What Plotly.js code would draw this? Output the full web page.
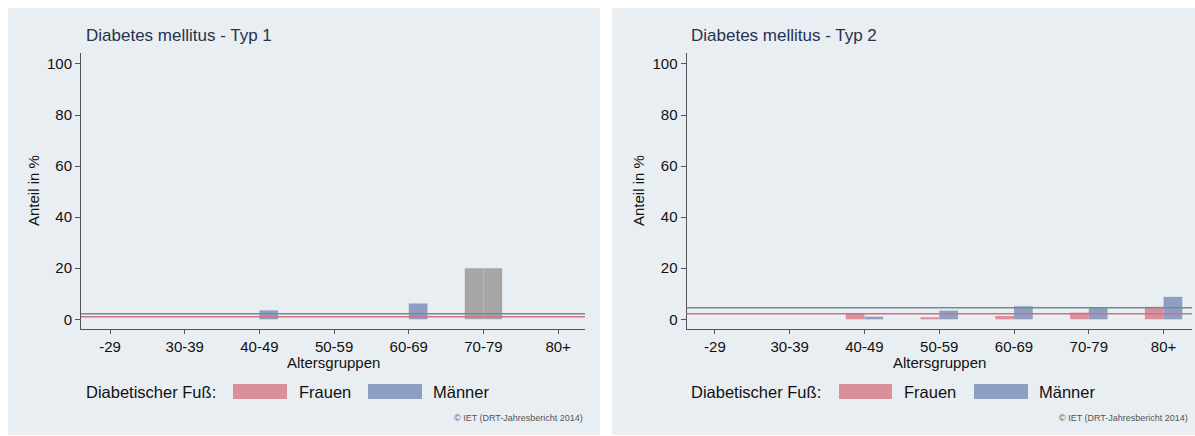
<!DOCTYPE html>
<html>
<head>
<meta charset="utf-8">
<script src="https://cdn.plot.ly/plotly-3.0.1.min.js"></script>
<style>html,body{margin:0;padding:0;background:#fff;}#chart{width:1195px;height:436px;}</style>
</head>
<body>
<div id="chart"></div>
<script>
// ---- data ----
const categories = ['-29', '30-39', '40-49', '50-59', '60-69', '70-79', '80+'];
const typ1Frauen  = [0, 0, 0,   0,   0,   20,  0];
const typ1Maenner = [0, 0, 3.5, 0,   6.2, 20,  0];
const typ2Frauen  = [0, 0, 2.2, 0.8, 1.3, 2.6, 4.9];
const typ2Maenner = [0, 0, 1.0, 3.4, 5.1, 4.8, 8.8];
// overall averages (reference lines): [Typ 1, Typ 2]
const mittelFrauen  = [1.0, 2.2];
const mittelMaenner = [2.2, 4.5];
const panelTitles = ['Diabetes mellitus - Typ 1', 'Diabetes mellitus - Typ 2'];
const yTicks = [0, 20, 40, 60, 80, 100];

// ---- styles ----
const W = 1195, H = 436;
const FONT = 'Liberation Sans, Arial, sans-serif';
const PINK = '#d9909b', BLUE = '#8f9fc3', GRAY = '#a6a6a6';
const PINK_LINE = '#c97586', GRAY_LINE = '#7c8796';
const PANEL_BG = '#e9eef2';
const px = v => v / W, py = v => 1 - v / H;

// 70-79 group in Typ 1 is drawn grey in the original
const grayIdx1 = categories.indexOf('70-79');
const colorsFor = (base, grayIdx) => categories.map((c, i) => i === grayIdx ? GRAY : base);

const traces = [
  {type: 'bar', x: categories, y: typ1Frauen, name: 'Frauen', xaxis: 'x', yaxis: 'y',
   marker: {color: colorsFor(PINK, grayIdx1), line: {width: 0}}, showlegend: false, hoverinfo: 'x+y'},
  {type: 'bar', x: categories, y: typ1Maenner, name: 'Männer', xaxis: 'x', yaxis: 'y',
   marker: {color: colorsFor(BLUE, grayIdx1), line: {width: 0}}, showlegend: false, hoverinfo: 'x+y'},
  {type: 'bar', x: categories, y: typ2Frauen, name: 'Frauen', xaxis: 'x2', yaxis: 'y2',
   marker: {color: PINK, line: {width: 0}}, showlegend: false, hoverinfo: 'x+y'},
  {type: 'bar', x: categories, y: typ2Maenner, name: 'Männer', xaxis: 'x2', yaxis: 'y2',
   marker: {color: BLUE, line: {width: 0}}, showlegend: false, hoverinfo: 'x+y'}
];

const panels = [
  {bg: [8, 600], dom: [81, 585], range: [-0.39, 6.36], ax: '', title: 84, legX: 84, sw1: [233, 287], t1: 297, sw2: [368, 422], t2: 431, copy: 585, ytitle: 33},
  {bg: [612, 1195], dom: [686.5, 1192], range: [-0.38, 6.38], ax: '2', title: 689, legX: 689, sw1: [839, 892], t1: 902, sw2: [974, 1028], t2: 1037, copy: 1190, ytitle: 638}
];

const shapes = [], annotations = [];
const layout = {
  width: W, height: H,
  margin: {l: 0, r: 0, t: 0, b: 0},
  paper_bgcolor: '#ffffff', plot_bgcolor: '#ffffff',
  barmode: 'group', bargap: 0.5, bargroupgap: 0,
  font: {family: FONT, color: '#111'},
  showlegend: false,
  shapes: shapes, annotations: annotations
};

const yDom = [py(329), py(53)];
panels.forEach((p, k) => {
  const xa = 'xaxis' + p.ax, ya = 'yaxis' + p.ax;
  const xr = 'x' + p.ax, yr = 'y' + p.ax;
  layout[xa] = {
    domain: [px(p.dom[0]), px(p.dom[1])], anchor: yr, type: 'category',
    range: p.range, showgrid: false, zeroline: false,
    showline: true, linecolor: '#555', linewidth: 1,
    ticks: 'outside', ticklen: 4, tickcolor: '#555', tickwidth: 1,
    tickfont: {family: FONT, size: 15, color: '#111'}, fixedrange: true
  };
  layout[ya] = {
    domain: yDom, anchor: xr, range: [-3.8, 104.3],
    tickvals: yTicks, ticktext: yTicks.map(String),
    showgrid: true, gridcolor: '#e8eef1', gridwidth: 1, zeroline: false,
    showline: true, linecolor: '#555', linewidth: 1,
    ticks: 'outside', ticklen: 5, tickcolor: '#555', tickwidth: 1,
    tickfont: {family: FONT, size: 15, color: '#111'}, fixedrange: true
  };
  // panel background
  shapes.push({type: 'rect', xref: 'paper', yref: 'paper', layer: 'below',
    x0: px(p.bg[0]), x1: px(p.bg[1]), y0: py(435), y1: py(8),
    fillcolor: PANEL_BG, line: {width: 0}});
  // average reference lines
  shapes.push({type: 'line', xref: xr + ' domain', yref: yr, x0: 0, x1: 1,
    y0: mittelMaenner[k], y1: mittelMaenner[k], line: {color: GRAY_LINE, width: 1.5}, layer: 'above'});
  shapes.push({type: 'line', xref: xr + ' domain', yref: yr, x0: 0, x1: 1,
    y0: mittelFrauen[k], y1: mittelFrauen[k], line: {color: PINK_LINE, width: 1.5}, layer: 'above'});
  // legend swatches
  shapes.push({type: 'rect', xref: 'paper', yref: 'paper', x0: px(p.sw1[0]), x1: px(p.sw1[1]),
    y0: py(399), y1: py(384), fillcolor: PINK, line: {width: 0}});
  shapes.push({type: 'rect', xref: 'paper', yref: 'paper', x0: px(p.sw2[0]), x1: px(p.sw2[1]),
    y0: py(399), y1: py(384), fillcolor: BLUE, line: {width: 0}});
  // titles & texts
  annotations.push({text: panelTitles[k], xref: 'paper', yref: 'paper', x: px(p.title), y: py(36),
    xanchor: 'left', yanchor: 'middle', showarrow: false, font: {family: FONT, size: 17, color: '#26324f'}});
  annotations.push({text: 'Anteil in %', xref: 'paper', yref: 'paper', x: px(p.ytitle), y: py(191),
    xanchor: 'center', yanchor: 'middle', textangle: -90, showarrow: false, font: {family: FONT, size: 15, color: '#111'}});
  annotations.push({text: 'Altersgruppen', xref: 'paper', yref: 'paper', x: (px(p.dom[0]) + px(p.dom[1])) / 2, y: py(362),
    xanchor: 'center', yanchor: 'middle', showarrow: false, font: {family: FONT, size: 15, color: '#111'}});
  annotations.push({text: 'Diabetischer Fuß:', xref: 'paper', yref: 'paper', x: px(p.legX), y: py(392),
    xanchor: 'left', yanchor: 'middle', showarrow: false, font: {family: FONT, size: 16.5, color: '#111'}});
  annotations.push({text: 'Frauen', xref: 'paper', yref: 'paper', x: px(p.t1), y: py(392),
    xanchor: 'left', yanchor: 'middle', showarrow: false, font: {family: FONT, size: 16.5, color: '#111'}});
  annotations.push({text: 'Männer', xref: 'paper', yref: 'paper', x: px(p.t2), y: py(392),
    xanchor: 'left', yanchor: 'middle', showarrow: false, font: {family: FONT, size: 16.5, color: '#111'}});
  annotations.push({text: '© IET (DRT-Jahresbericht 2014)', xref: 'paper', yref: 'paper', x: px(p.copy), y: py(418),
    xanchor: 'right', yanchor: 'middle', showarrow: false, font: {family: FONT, size: 9, color: '#555'}});
});

Plotly.newPlot('chart', traces, layout, {displayModeBar: false, staticPlot: true});
</script>
</body>
</html>
